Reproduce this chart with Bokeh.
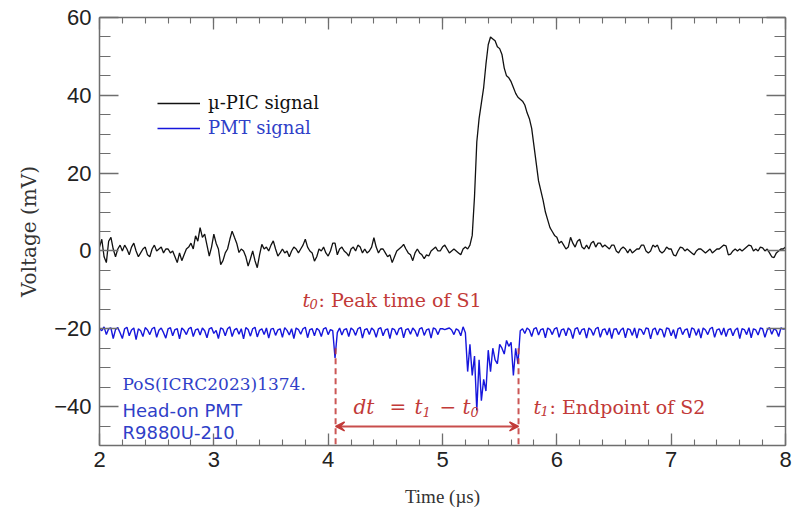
from bokeh.plotting import figure
from bokeh.models import (ColumnDataSource, Range1d, LinearAxis, SingleIntervalTicker,
                          Label, Arrow, VeeHead, Legend, LegendItem)
from bokeh.embed import file_html
from bokeh.resources import INLINE

# ---------------- data ----------------
T_START = 2.0
DT = 0.02

pic_signal = [
    1.0, 3.0, -1.5, -3.0, 2.5, 3.5, 0.5, -1.5, 0.5, 1.5,
    0.0, 1.5, 0.5, -1.0, 1.0, 2.0, 0.0, -1.5, -0.5, 0.5,
    1.0, -1.0, -1.5, 0.5, 1.5, 0.0, 0.5, 1.0, -0.5, 0.5,
    0.5, -0.5, 0.0, -1.5, -3.0, -0.5, -2.5, -1.0, 0.5, 1.0,
    2.0, 0.5, 3.9, 2.5, 6.0, 3.5, 4.3, 1.5, -1.3, 1.0,
    4.3, 2.0, 0.5, -3.5, -2.5, -0.5, 0.5, 3.0, 5.1, 3.5,
    2.0, -0.4, 0.5, 0.0, -1.5, -3.9, -2.0, 0.0, -2.5, -4.3,
    -1.0, 1.7, 0.5, 1.0, 0.0, 1.5, 2.6, 0.5, -1.3, -0.5,
    0.5, -0.5, 0.0, -1.5, 0.0, 1.0, 0.5, -0.5, 0.5, 1.5,
    3.0, 1.0, 0.0, -0.5, -2.6, -1.5, 0.5, 0.0, 1.0, -0.5,
    -1.3, 0.0, 2.0, 2.0, -1.0, 0.5, 1.0, 0.0, -0.5, -1.3,
    0.5, 1.0, 0.0, 1.5, 1.0, -0.5, 0.5, -0.5, 0.0, 1.0,
    3.4, 1.0, -0.5, 0.5, 0.5, -0.5, -1.5, -1.0, -3.0, -1.5,
    0.0, 0.5, 1.0, 1.7, 0.5, -0.5, -1.0, -2.5, -0.5, 0.5,
    -0.5, -1.0, -2.0, -1.0, -1.3, 0.0, 0.5, 1.0, 0.0, 0.0,
    1.0, 1.5, 0.5, -0.5, 0.0, 0.5, 0.0, -0.5, -1.0, 0.5,
    1.0, 0.5, 1.5, 4.0, 14.0, 28.0, 34.0, 38.0, 42.0, 48.0,
    53.0, 55.0, 54.5, 54.0, 52.5, 52.0, 50.5, 47.0, 45.0, 44.5,
    43.5, 42.0, 40.5, 39.5, 39.0, 38.5, 37.5, 35.5, 34.0, 31.5,
    27.0, 22.5, 18.0, 15.5, 13.0, 10.0, 8.0, 6.0, 5.0, 4.0,
    3.5, 2.0, 2.5, 1.5, 0.5, 1.0, 3.5, 2.0, 1.0, 2.5,
    3.0, 1.0, 0.5, 1.5, 0.5, 2.0, 2.5, 1.0, 2.0, 2.0,
    1.0, 1.5, 1.0, 0.5, 1.5, 1.5, 0.0, -0.5, 0.5, 1.0,
    0.5, -0.5, 0.5, -0.5, 0.0, 0.5, 0.5, 1.5, 1.5, 0.0,
    -0.5, 0.0, 1.5, 1.0, 1.5, 0.0, -0.5, 0.0, 1.0, 0.5,
    0.5, -1.0, -1.3, 0.0, 1.0, 0.8, 0.0, 0.5, 0.0, -0.5,
    -1.0, 0.0, 0.5, 0.5, 0.0, -0.5, 0.0, 0.5, -0.5, 0.0,
    0.5, 0.5, 1.0, 1.5, 1.3, -1.0, -0.8, 0.0, 0.5, 0.0,
    0.5, 0.0, 0.5, 1.0, 1.5, 1.3, 0.0, 0.5, 0.0, 1.0,
    0.8, 0.0, 0.5, -0.5, -1.5, -1.7, -0.5, 0.0, 0.5, 0.5,
    1.0,
]

pmt_signal = [
    -20.0, -20.5, -19.5, -21.5, -20.0, -19.8, -22.5, -20.2, -19.7, -21.0,
    -22.5, -20.0, -19.6, -21.8, -20.3, -19.8, -22.8, -20.0, -20.5, -22.0,
    -19.7, -20.3, -21.5, -20.0, -19.6, -22.2, -20.4, -19.8, -21.0, -22.4,
    -20.0, -19.7, -21.8, -20.2, -20.0, -22.6, -19.8, -20.4, -21.5, -20.0,
    -19.6, -22.0, -20.3, -20.0, -21.6, -19.8, -20.5, -22.3, -20.0, -19.7,
    -21.2, -20.4, -22.5, -19.8, -20.1, -21.8, -20.0, -19.5, -22.0, -20.3,
    -19.9, -21.4, -20.0, -22.6, -19.7, -20.2, -21.9, -20.0, -19.6, -22.1,
    -20.4, -20.0, -21.5, -19.8, -22.4, -20.1, -19.9, -21.7, -20.3, -20.0,
    -22.2, -19.7, -20.4, -21.6, -20.0, -22.5, -19.8, -20.2, -21.4, -20.0,
    -19.6, -22.3, -20.2, -20.0, -21.8, -19.9, -20.4, -22.0, -20.0, -19.7,
    -21.5, -20.2, -20.5, -27.5, -21.0, -19.8, -21.6, -20.2, -20.0, -22.0,
    -19.8, -20.3, -21.7, -20.0, -19.6, -22.4, -20.2, -20.0, -21.5, -19.8,
    -20.4, -22.2, -20.0, -19.7, -21.8, -20.3, -20.0, -22.5, -19.9, -20.2,
    -21.6, -20.0, -19.7, -22.3, -20.2, -20.0, -21.4, -19.8, -20.5, -22.0,
    -20.0, -19.7, -21.7, -20.3, -20.0, -22.4, -19.8, -20.1, -21.5, -20.0,
    -20.0, -20.2, -20.0, -19.8, -20.3, -21.5, -20.0, -20.4, -21.8, -19.5,
    -21.0, -31.0, -24.0, -32.0, -27.0, -41.0, -28.0, -38.5, -33.0, -36.0,
    -25.5, -31.0, -25.0, -28.0, -29.0, -24.0, -25.0, -26.5, -23.0, -24.5,
    -23.5, -32.0, -25.0, -29.0, -20.5, -20.0, -21.2, -19.8, -20.3, -22.0,
    -20.0, -19.7, -21.6, -20.2, -20.0, -22.3, -19.8, -20.2, -21.5, -20.0,
    -19.7, -22.2, -20.3, -20.0, -21.8, -19.8, -20.4, -22.5, -20.0, -19.7,
    -21.5, -20.2, -20.0, -22.4, -19.8, -20.3, -21.7, -20.0, -19.6, -22.2,
    -20.3, -20.0, -21.6, -19.8, -22.5, -20.1, -20.0, -21.5, -20.3, -19.8,
    -22.3, -20.0, -20.2, -21.7, -19.8, -22.4, -20.0, -20.3, -21.5, -19.8,
    -20.0, -22.6, -20.2, -19.8, -21.6, -20.0, -20.3, -22.2, -19.8, -20.0,
    -21.8, -20.2, -22.5, -20.0, -19.7, -21.5, -20.3, -20.0, -22.3, -19.8,
    -20.1, -21.7, -20.0, -22.4, -19.8, -20.3, -21.5, -20.0, -19.6, -22.2,
    -20.3, -20.0, -21.6, -19.8, -22.0, -20.2, -20.0, -21.8, -20.3, -19.8,
    -22.5, -20.0, -20.2, -21.5, -19.7, -22.3, -20.0, -20.3, -21.6, -19.8,
    -20.0, -22.2, -20.3, -19.7, -21.4, -20.0, -20.4, -22.0, -19.8, -20.1,
    -20.0,
]

time_us = [round(T_START + i * DT, 2) for i in range(len(pic_signal))]

x_ticks_major = 1
y_ticks_major = 20
y_tick_labels = {-40: "\u221240", -20: "\u221220", 0: "0", 20: "20", 40: "40", 60: "60"}

T0 = 4.065           # peak time of S1
T1 = 5.665           # endpoint of S2
ARROW_Y = -45.1
DASH_TOP = -25.0

# ---------------- styles ----------------
RED = "#c23a38"
BLUE_LINE = "#1616dc"
BLUE_TEXT = "#2f3fc8"
AXIS_GREY = "#6e6e6e"

src = ColumnDataSource(dict(t=time_us, pic=pic_signal, pmt=pmt_signal))

p = figure(width=792, height=514, output_backend="svg", toolbar_location=None,
           x_range=Range1d(2, 8), y_range=Range1d(-50, 60),
           x_axis_location=None, y_axis_location=None,
           min_border_left=99, min_border_right=7, min_border_top=17, min_border_bottom=69)
p.grid.visible = False
p.outline_line_color = None
p.background_fill_color = "white"
p.border_fill_color = "white"


def style_axis(ax, major_len, minor_len, show_labels):
    ax.major_tick_in = major_len
    ax.major_tick_out = 0
    ax.minor_tick_in = minor_len
    ax.minor_tick_out = 0
    ax.axis_line_color = AXIS_GREY
    ax.axis_line_width = 1.5
    ax.major_tick_line_color = AXIS_GREY
    ax.major_tick_line_width = 1.3
    ax.minor_tick_line_color = AXIS_GREY
    ax.minor_tick_line_width = 1.1
    if show_labels:
        ax.major_label_text_font = "Liberation Sans"
        ax.major_label_text_font_size = "22px"
        ax.major_label_text_color = "#222222"
        ax.axis_label_text_font_style = "normal"
        ax.axis_label_text_color = "#333333"
    else:
        ax.major_label_text_font_size = "1px"
        ax.major_label_text_color = None
        ax.major_label_standoff = 0
        ax.axis_label = None


xb = LinearAxis(ticker=SingleIntervalTicker(interval=x_ticks_major, num_minor_ticks=5),
                axis_label="Time (\u00b5s)")
style_axis(xb, 12, 6, True)
xb.axis_label_text_font = "Liberation Serif"
xb.axis_label_text_font_size = "19px"
xb.major_label_standoff = 6
xb.axis_label_standoff = 16
p.add_layout(xb, "below")

xt = LinearAxis(ticker=SingleIntervalTicker(interval=x_ticks_major, num_minor_ticks=5))
style_axis(xt, 12, 6, False)
p.add_layout(xt, "above")

yl = LinearAxis(ticker=SingleIntervalTicker(interval=y_ticks_major, num_minor_ticks=4),
                axis_label="Voltage (mV)")
style_axis(yl, 19, 11, True)
yl.axis_label_text_font = "DejaVu Serif"
yl.axis_label_text_font_size = "20px"
yl.major_label_overrides = y_tick_labels
yl.major_label_standoff = 8
yl.axis_label_standoff = 10
p.add_layout(yl, "left")

yr = LinearAxis(ticker=SingleIntervalTicker(interval=y_ticks_major, num_minor_ticks=4))
style_axis(yr, 19, 11, False)
p.add_layout(yr, "right")

# ---------------- signals ----------------
r_pmt = p.line("t", "pmt", source=src, line_color=BLUE_LINE, line_width=1.4)
r_pic = p.line("t", "pic", source=src, line_color="#111111", line_width=1.3)

# ---------------- legends ----------------
for label, rend, col, loc in [("\u00b5-PIC signal", r_pic, "#111111", (58, 332)),
                              ("PMT signal", r_pmt, BLUE_TEXT, (58, 307))]:
    lg = Legend(items=[LegendItem(label=label, renderers=[rend])], location=loc,
                background_fill_alpha=0, border_line_color=None, padding=0, margin=0,
                glyph_width=43, glyph_height=20, label_height=20, label_standoff=8,
                label_text_font="DejaVu Serif", label_text_font_size="18px",
                label_text_color=col, spacing=0)
    p.add_layout(lg)

# ---------------- annotations ----------------
p.segment(x0=[T0, T1], y0=[DASH_TOP, DASH_TOP], x1=[T0, T1], y1=[-50, -50],
          line_color=RED, line_width=2, line_dash="6 4", line_alpha=0.85)

head = dict(size=9, line_color=RED, fill_color=RED, line_width=1.5)
p.add_layout(Arrow(start=VeeHead(**head), end=VeeHead(**head),
                   x_start=T0, y_start=ARROW_Y, x_end=T1, y_end=ARROW_Y,
                   line_color=RED, line_width=2, line_alpha=0.9))


def add_text(x, y, text, font="DejaVu Serif", size="19px", style="normal",
             color=RED, dx=0, dy=0):
    p.add_layout(Label(x=x, y=y, text=text, text_font=font, text_font_size=size,
                       text_font_style=style, text_color=color, x_offset=dx, y_offset=dy,
                       text_baseline="alphabetic", text_align="left"))


# t0 : Peak time of S1
T0X, T0Y = 3.776, -12.5
add_text(T0X, T0Y, "t", style="italic")
add_text(T0X, T0Y, "0", size="13px", style="italic", dx=7, dy=-4)
add_text(T0X, T0Y, ": Peak time of S1", dx=16)

# t1 : Endpoint of S2
T1X, T1Y = 5.796, -40.0
add_text(T1X, T1Y, "t", style="italic")
add_text(T1X, T1Y, "1", size="13px", style="italic", dx=7, dy=-4)
add_text(T1X, T1Y, " : Endpoint of S2", dx=16)

# dt = t1 - t0
DX, DY = 4.222, -40.0
add_text(DX, DY, "dt", size="20px", style="italic")
add_text(DX, DY, "=", size="20px", dx=36)
add_text(DX, DY, "t", size="20px", style="italic", dx=61)
add_text(DX, DY, "1", size="13px", style="italic", dx=69, dy=-5)
add_text(DX, DY, "\u2212", size="20px", dx=86)
add_text(DX, DY, "t", size="20px", style="italic", dx=109)
add_text(DX, DY, "0", size="13px", style="italic", dx=117, dy=-5)

# source note
add_text(2.201, -34.3, "PoS(ICRC2023)1374.", size="17px", color=BLUE_TEXT)
add_text(2.201, -40.9, "Head-on PMT", font="DejaVu Sans", size="18px", color=BLUE_TEXT)
add_text(2.201, -46.7, "R9880U-210", font="DejaVu Sans", size="18px", color=BLUE_TEXT)

open("out.html", "w").write(file_html(p, INLINE))
